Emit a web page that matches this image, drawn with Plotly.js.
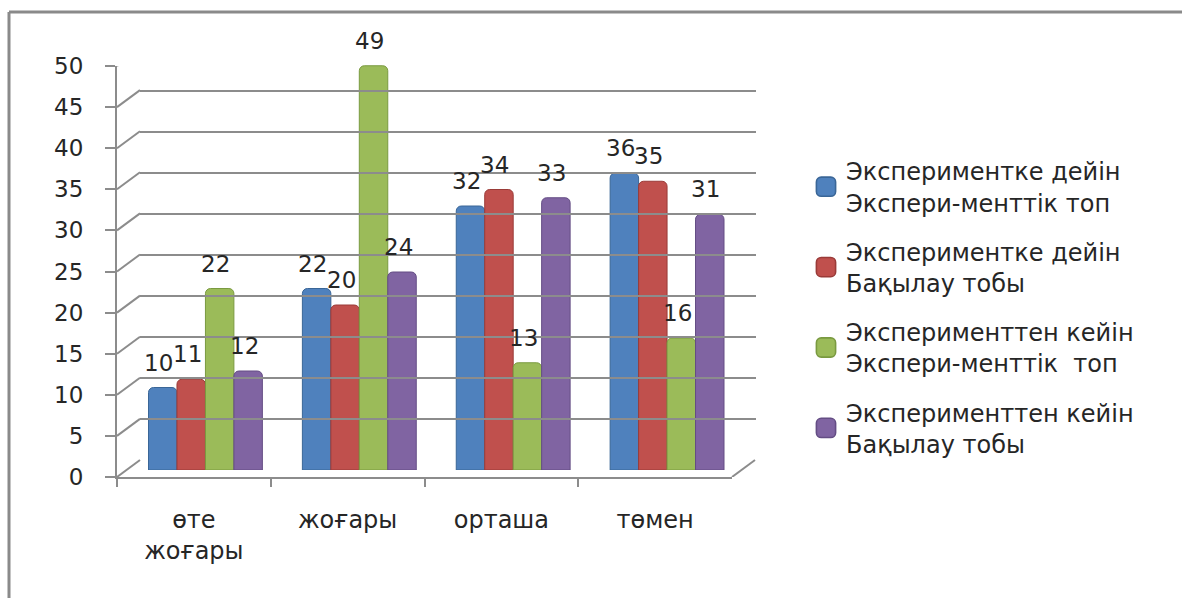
<!DOCTYPE html>
<html>
<head>
<meta charset="utf-8">
<script src="https://cdn.plot.ly/plotly-3.0.1.min.js"></script>
<style>html,body{margin:0;padding:0;background:#fff;}</style>
</head>
<body>
<div id="chart" style="width:1182px;height:598px;"></div>
<script>
// ---- data ----
var categories = ["өте<br>жоғары", "жоғары", "орташа", "төмен"];
var seriesNames = [
  "Экспериментке дейін<br>Экспери-менттік топ",
  "Экспериментке дейін<br>Бақылау тобы",
  "Эксперименттен кейін<br>Экспери-менттік  топ",
  "Эксперименттен кейін<br>Бақылау тобы"
];
var beforeExperimental = [10, 22, 32, 36];
var beforeControl      = [11, 20, 34, 35];
var afterExperimental  = [22, 49, 13, 16];
var afterControl       = [12, 24, 33, 31];
var yTickVals = [0, 5, 10, 15, 20, 25, 30, 35, 40, 45, 50];

// ---- styling ----
var seriesValues = [beforeExperimental, beforeControl, afterExperimental, afterControl];
var colors = ["#4F81BD", "#C0504D", "#9BBB59", "#8064A2"];
var edge   = ["#3A6697", "#9A3B38", "#7A9A40", "#644D84"];
var W = 1182, H = 598;
var grid = "#8C8C8C";
var font = "DejaVu Sans, Verdana, sans-serif";
var txt = "#262626";
function px(x){ return x / W; }
function py(y){ return 1 - y / H; }

var bargap = 0.26;
var midL = 128.5, midR = 744;
var barW = (midR - midL) / categories.length * (1 - bargap) / seriesValues.length;
var catRange = [-0.5, categories.length - 0.5];

var traces = [];
seriesValues.forEach(function(vals, i){
  traces.push({
    type: "bar", x: categories, y: vals, name: seriesNames[i],
    legendgroup: "g" + i,
    xaxis: "x", yaxis: "y",
    marker: {color: colors[i], line: {color: edge[i], width: 1}, cornerradius: 5},
    hoverinfo: "y"
  });
});
// invisible helpers to create back-wall and front-plane axes
traces.push({type: "scatter", x: categories, y: categories.map(function(){return 0;}),
  xaxis: "x2", yaxis: "y2", mode: "markers", marker: {opacity: 0}, showlegend: false, hoverinfo: "skip"});
traces.push({type: "scatter", x: categories, y: categories.map(function(){return 0;}),
  xaxis: "x3", yaxis: "y3", mode: "markers", marker: {opacity: 0}, showlegend: false, hoverinfo: "skip"});

// data labels
var annotations = [];
seriesValues.forEach(function(vals, i){
  vals.forEach(function(v, j){
    annotations.push({
      x: categories[j], y: v, xref: "x", yref: "y",
      text: String(v), showarrow: false,
      xshift: (i - 1.5) * barW - 4, yshift: 25,
      font: {family: font, size: 23, color: txt}
    });
  });
});

// 3D wall diagonals from front ticks to back gridlines
var dx = 23, dy = 17;
var shapes = [];
yTickVals.forEach(function(v){
  shapes.push({type: "line", xref: "paper", yref: "y3",
    xsizemode: "pixel", ysizemode: "pixel", xanchor: px(117), yanchor: v,
    x0: 0, x1: dx, y0: 0, y1: dy, line: {color: grid, width: 2}});
});
// floor right diagonal
shapes.push({type: "line", xref: "paper", yref: "y3",
  xsizemode: "pixel", ysizemode: "pixel", xanchor: px(732), yanchor: 0,
  x0: 0, x1: dx, y0: 0, y1: dy, line: {color: grid, width: 2}});
// outer chart frame (top and left)
shapes.push({type: "line", xref: "paper", yref: "paper", x0: px(9), x1: 1, y0: py(12), y1: py(12),
  line: {color: "#8A8A8A", width: 3}});
shapes.push({type: "line", xref: "paper", yref: "paper", x0: px(9), x1: px(9), y0: py(12), y1: 0,
  line: {color: "#8A8A8A", width: 3}});

var layout = {
  width: W, height: H,
  margin: {l: 0, r: 0, t: 0, b: 0},
  paper_bgcolor: "#fff", plot_bgcolor: "rgba(0,0,0,0)",
  barmode: "group", bargap: bargap, bargroupgap: 0,
  font: {family: font, size: 22, color: txt},
  showlegend: true,
  legend: {x: px(806), y: py(149), xanchor: "left", yanchor: "top",
    font: {family: font, size: 24, color: txt},
    traceorder: "grouped", tracegroupgap: 15, itemclick: false, itemdoubleclick: false},
  // bars plane (middle depth)
  xaxis: {domain: [px(midL), px(midR)], anchor: "y", type: "category", range: catRange,
    showticklabels: false, showline: false, showgrid: false, zeroline: false, fixedrange: true},
  yaxis: {domain: [py(470), py(57.5)], anchor: "x", range: [0, 50],
    showticklabels: false, showline: false, showgrid: false, zeroline: false, fixedrange: true},
  // back wall
  xaxis2: {domain: [px(140), px(756)], anchor: "y2", type: "category", range: catRange,
    showticklabels: false, showline: false, showgrid: false, zeroline: false, fixedrange: true},
  yaxis2: {domain: [py(460), py(50)], anchor: "x2", range: [0, 50], tickvals: yTickVals,
    showticklabels: false, showline: false, showgrid: true, gridcolor: grid, gridwidth: 2,
    zeroline: false, fixedrange: true},
  // front plane (axes with labels)
  xaxis3: {domain: [px(117), px(732)], anchor: "y3", type: "category", range: catRange,
    showline: true, linecolor: grid, linewidth: 2, showgrid: false, zeroline: false,
    ticks: "outside", tickson: "boundaries", ticklen: 8, tickwidth: 2, tickcolor: grid,
    ticklabelstandoff: 20, tickfont: {family: font, size: 24, color: txt}, fixedrange: true},
  yaxis3: {domain: [py(477), py(66)], anchor: "x3", range: [0, 50], tickvals: yTickVals,
    showline: true, linecolor: grid, linewidth: 2, showgrid: false, zeroline: false,
    ticks: "outside", ticklen: 10, tickwidth: 2, tickcolor: grid, ticklabelstandoff: 17,
    tickfont: {family: font, size: 23, color: txt}, fixedrange: true},
  shapes: shapes,
  annotations: annotations
};

var gd = document.getElementById("chart");
function enlargeLegendKeys(){
  var pts = gd.querySelectorAll(".legend .legendpoints path");
  pts.forEach(function(p){
    var t = p.getAttribute("transform") || "";
    if (t.indexOf("scale") < 0) p.setAttribute("transform", t + " scale(1.6)");
  });
}
Plotly.newPlot(gd, traces, layout, {displayModeBar: false}).then(function(){
  enlargeLegendKeys();
  gd.on("plotly_afterplot", enlargeLegendKeys);
});
</script>
</body>
</html>
